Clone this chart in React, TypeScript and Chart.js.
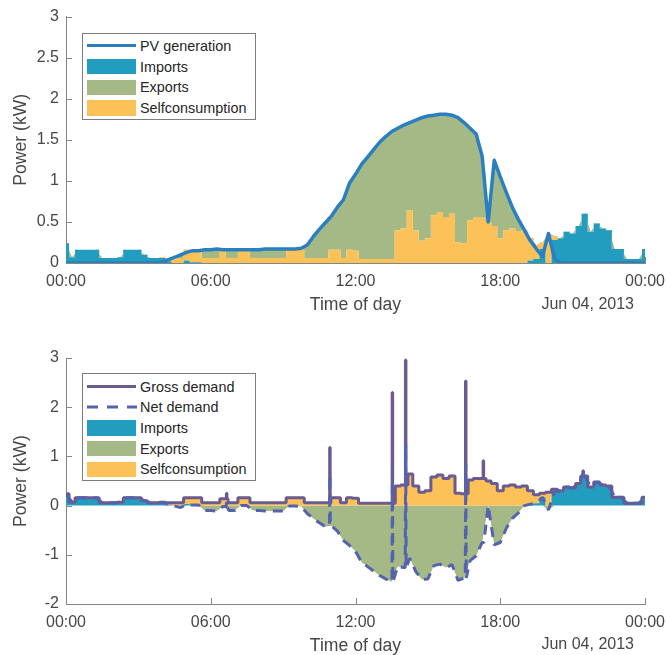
import React, { useEffect, useRef } from 'react';
import { Chart, registerables } from 'chart.js';

Chart.register(...registerables);

// ---- data (kW, 15-minute grid from 00:00 to 24:00) ----
const hours: number[] = Array.from({ length: 97 }, (_, i) => i * 0.25);
const xTickLabels = ['00:00', '06:00', '12:00', '18:00', '00:00'];
const dateLabel = 'Jun 04, 2013';

const pvGeneration = [
  0, 0, 0, 0, 0, 0, 0, 0,
  0, 0, 0, 0, 0, 0, 0, 0,
  0.01, 0.04, 0.07, 0.10, 0.13, 0.15, 0.15, 0.16,
  0.16, 0.17, 0.16, 0.16, 0.16, 0.16, 0.16, 0.16,
  0.16, 0.17, 0.17, 0.17, 0.17, 0.17, 0.17, 0.18,
  0.22, 0.32, 0.41, 0.49, 0.57, 0.68, 0.77, 0.97,
  1.08, 1.20, 1.29, 1.38, 1.47, 1.54, 1.60, 1.64,
  1.68, 1.71, 1.74, 1.77, 1.79, 1.80, 1.81, 1.81,
  1.80, 1.77, 1.71, 1.64, 1.57, 1.30, 0.50, 1.25,
  1.05, 0.86, 0.68, 0.53, 0.40, 0.27, 0.17, 0.08,
  0.36, 0.05, 0, 0, 0, 0, 0, 0,
  0, 0, 0, 0, 0, 0, 0, 0,
  0,
];

const grossDemand = [
  0.24, 0.07, 0.16, 0.16, 0.16, 0.16, 0.06, 0.06,
  0.06, 0.07, 0.16, 0.16, 0.16, 0.10, 0.06, 0.06,
  0.07, 0.06, 0.06, 0.06, 0.16, 0.16, 0.16, 0.06,
  0.06, 0.06, 0.14, 0.06, 0.06, 0.16, 0.16, 0.06,
  0.06, 0.06, 0.06, 0.06, 0.06, 0.16, 0.16, 0.16,
  0.06, 0.06, 0.06, 0.06, 0.16, 0.16, 0.06, 0.16,
  0.15, 0.05, 0.05, 0.05, 0.05, 0.05, 0.05, 0.40,
  0.42, 0.64, 0.40, 0.27, 0.30, 0.58, 0.62, 0.55,
  0.60, 0.25, 0.24, 0.52, 0.55, 0.55, 0.50, 0.45,
  0.30, 0.40, 0.42, 0.38, 0.40, 0.30, 0.22, 0.25,
  0.27, 0.33, 0.30, 0.38, 0.36, 0.45, 0.60, 0.38,
  0.48, 0.42, 0.40, 0.17, 0.17, 0.05, 0.05, 0.05,
  0.17,
];

const netDemand = [
  0.24, 0.07, 0.16, 0.16, 0.16, 0.16, 0.06, 0.06,
  0.06, 0.07, 0.16, 0.16, 0.16, 0.10, 0.06, 0.06,
  0.06, 0.02, -0.01, -0.04, 0.03, 0.01, 0.01, -0.10,
  -0.10, -0.11, -0.02, -0.10, -0.10, 0, 0, -0.10,
  -0.10, -0.11, -0.11, -0.11, -0.11, -0.01, -0.01, -0.02,
  -0.16, -0.26, -0.35, -0.43, -0.41, -0.52, -0.71, -0.81,
  -0.93, -1.15, -1.24, -1.33, -1.42, -1.49, -1.55, -1.24,
  -1.26, -1.07, -1.34, -1.50, -1.49, -1.22, -1.19, -1.26,
  -1.20, -1.52, -1.47, -1.12, -1.02, -0.75, 0, -0.80,
  -0.75, -0.46, -0.26, -0.15, 0, 0.03, 0.05, 0.17,
  -0.09, 0.28, 0.30, 0.38, 0.36, 0.45, 0.60, 0.38,
  0.48, 0.42, 0.40, 0.17, 0.17, 0.05, 0.05, 0.05,
  0.17,
];

const imports = [
  0.24, 0.07, 0.16, 0.16, 0.16, 0.16, 0.06, 0.06,
  0.06, 0.07, 0.16, 0.16, 0.16, 0.10, 0.06, 0.06,
  0.06, 0.02, 0, 0, 0.03, 0.01, 0.01, 0,
  0, 0, 0, 0, 0, 0, 0, 0,
  0, 0, 0, 0, 0, 0, 0, 0,
  0, 0, 0, 0, 0, 0, 0, 0,
  0, 0, 0, 0, 0, 0, 0, 0,
  0, 0, 0, 0, 0, 0, 0, 0,
  0, 0, 0, 0, 0, 0, 0, 0,
  0, 0, 0, 0, 0, 0.03, 0.05, 0.17,
  0, 0.28, 0.30, 0.38, 0.36, 0.45, 0.60, 0.38,
  0.48, 0.42, 0.40, 0.17, 0.17, 0.05, 0.05, 0.05,
  0.17,
];

const exportsKw = [
  0, 0, 0, 0, 0, 0, 0, 0,
  0, 0, 0, 0, 0, 0, 0, 0,
  0, 0, 0.01, 0.04, 0, 0, 0, 0.10,
  0.10, 0.11, 0.02, 0.10, 0.10, 0, 0, 0.10,
  0.10, 0.11, 0.11, 0.11, 0.11, 0.01, 0.01, 0.02,
  0.16, 0.26, 0.35, 0.43, 0.41, 0.52, 0.71, 0.81,
  0.93, 1.15, 1.24, 1.33, 1.42, 1.49, 1.55, 1.24,
  1.26, 1.07, 1.34, 1.50, 1.49, 1.22, 1.19, 1.26,
  1.20, 1.52, 1.47, 1.12, 1.02, 0.75, 0, 0.80,
  0.75, 0.46, 0.26, 0.15, 0, 0, 0, 0,
  0.09, 0, 0, 0, 0, 0, 0, 0,
  0, 0, 0, 0, 0, 0, 0, 0,
  0,
];

const selfConsumption = [
  0, 0, 0, 0, 0, 0, 0, 0,
  0, 0, 0, 0, 0, 0, 0, 0,
  0.01, 0.04, 0.06, 0.06, 0.13, 0.15, 0.15, 0.06,
  0.06, 0.06, 0.14, 0.06, 0.06, 0.16, 0.16, 0.06,
  0.06, 0.06, 0.06, 0.06, 0.06, 0.16, 0.16, 0.16,
  0.06, 0.06, 0.06, 0.06, 0.16, 0.16, 0.06, 0.16,
  0.15, 0.05, 0.05, 0.05, 0.05, 0.05, 0.05, 0.40,
  0.42, 0.64, 0.40, 0.27, 0.30, 0.58, 0.62, 0.55,
  0.60, 0.25, 0.24, 0.52, 0.55, 0.55, 0.50, 0.45,
  0.30, 0.40, 0.42, 0.38, 0.40, 0.27, 0.17, 0.08,
  0.27, 0.05, 0, 0, 0, 0, 0, 0,
  0, 0, 0, 0, 0, 0, 0, 0,
  0,
];

// short demand spikes (hour of day, peak and surrounding level)
const spikeHours = [6.66, 10.94, 13.53, 14.08, 16.57, 17.30, 21.44];
const spikeGross = [0.25, 1.18, 2.30, 2.96, 2.53, 0.91, 0.71];
const spikeGrossBase = [0.14, 0.06, 0.05, 0.42, 0.24, 0.55, 0.60];
const spikeNet = [0.09, 0.62, 0.70, 1.26, 0.84, -0.75, 0.71];
const spikeNetBase = [-0.02, -0.41, -1.55, -1.26, -1.47, -0.75, 0.60];

// ---- styling ----
const FONT = "'Liberation Sans', Arial, Helvetica, sans-serif";
const AXIS = '#868686';
const TEXT = '#474747';
const C_PV = '#2a7fc0';
const C_IMP = '#239dbf';
const C_EXP = '#a5b986';
const C_SELF = '#fdc257';
const C_GROSS = '#6b5b8f';
const C_NET = '#5562ae';

const pts = (vals: number[], sign = 1) => hours.map((h, i) => ({ x: h, y: sign * vals[i] }));

function withSpikes(vals: number[], peaks: number[], bases: number[]) {
  const out = pts(vals);
  spikeHours.forEach((t, k) => {
    out.push({ x: t - 0.02, y: bases[k] }, { x: t, y: peaks[k] }, { x: t + 0.02, y: bases[k] });
  });
  return out.sort((a, b) => a.x - b.x);
}

const innerTicks = {
  id: 'innerTicks',
  beforeDatasetsDraw(chart: any) {
    const { ctx, chartArea, scales } = chart;
    ctx.save();
    ctx.strokeStyle = AXIS;
    ctx.lineWidth = 1;
    ctx.beginPath();
    scales.y.ticks.forEach((t: any) => {
      const y = Math.round(scales.y.getPixelForValue(t.value)) + 0.5;
      ctx.moveTo(chartArea.left, y);
      ctx.lineTo(chartArea.left + 6, y);
    });
    scales.x.ticks.forEach((t: any) => {
      const x = Math.round(scales.x.getPixelForValue(t.value)) + 0.5;
      ctx.moveTo(x, chartArea.bottom);
      ctx.lineTo(x, chartArea.bottom - 6);
    });
    ctx.stroke();
    ctx.restore();
  },
};

function makeOptions(yMin: number, yMax: number, yStep: number, padTop: number, padBottom: number) {
  return {
    responsive: false,
    animation: false as const,
    events: [] as any[],
    layout: { padding: { top: padTop, right: 22, bottom: padBottom, left: 0 } },
    plugins: { legend: { display: false }, tooltip: { enabled: false } },
    elements: { point: { radius: 0 }, line: { tension: 0 } },
    scales: {
      x: {
        type: 'linear' as const,
        min: 0,
        max: 24,
        z: 1,
        ticks: {
          stepSize: 6,
          autoSkip: false,
          maxRotation: 0,
          padding: 9,
          color: TEXT,
          font: { family: FONT, size: 16 },
          callback: (v: any) => xTickLabels[Math.round(Number(v) / 6)],
        },
        grid: { display: false, drawTicks: false, tickLength: 0 },
        border: { display: true, color: AXIS, width: 1 },
        title: {
          display: true,
          text: 'Time of day',
          color: TEXT,
          font: { family: FONT, size: 17.6, lineHeight: 1 },
          padding: { top: 0, bottom: 0 },
        },
        afterFit: (s: any) => {
          s.height = 51;
          s.paddingLeft = 20;
          s.paddingRight = 20;
        },
      },
      y: {
        min: yMin,
        max: yMax,
        stacked: true,
        z: 1,
        ticks: {
          stepSize: yStep,
          padding: 7,
          color: TEXT,
          font: { family: FONT, size: 16 },
          callback: (v: any) => String(Number(v)),
        },
        grid: { display: false, drawTicks: false, tickLength: 0 },
        border: { display: true, color: AXIS, width: 1 },
        title: {
          display: true,
          text: 'Power (kW)',
          color: TEXT,
          font: { family: FONT, size: 17.6, lineHeight: 1 },
          padding: { top: 12, bottom: 0 },
        },
        afterFit: (s: any) => { s.width = 66; },
      },
    },
  };
}

type Item = { label: string; kind: 'line' | 'dash' | 'box'; color: string };

function Legend(props: { left: number; top: number; width: number; height: number; first: number; spacing: number; items: Item[] }) {
  const { left, top, width, height, first, spacing, items } = props;
  return (
    <div
      style={{
        position: 'absolute', left, top, width, height, boxSizing: 'border-box',
        border: '1px solid #7d7d7d', background: '#ffffff', fontFamily: FONT,
      }}
    >
      {items.map((it, i) => {
        const cy = first + i * spacing;
        return (
          <React.Fragment key={i}>
            {it.kind === 'box' && (
              <div style={{ position: 'absolute', left: 4, top: cy - 7.75, width: 49, height: 15.5, background: it.color }} />
            )}
            {it.kind === 'line' && (
              <div style={{ position: 'absolute', left: 4, top: cy - 1.5, width: 49, height: 3, background: it.color }} />
            )}
            {it.kind === 'dash' && (
              <svg style={{ position: 'absolute', left: 4, top: cy - 2 }} width={50} height={4}>
                <line x1={0} y1={2} x2={50} y2={2} stroke={it.color} strokeWidth={3} strokeDasharray="11 9" />
              </svg>
            )}
            <div
              style={{
                position: 'absolute', left: 57, top: cy - 10, height: 20, lineHeight: '20px',
                fontSize: 14.4, color: '#262626', whiteSpace: 'nowrap',
              }}
            >
              {it.label}
            </div>
          </React.Fragment>
        );
      })}
    </div>
  );
}

const areaBase = { borderWidth: 0, borderColor: 'rgba(0,0,0,0)', pointRadius: 0 };

export default function App() {
  const topRef = useRef<HTMLCanvasElement | null>(null);
  const botRef = useRef<HTMLCanvasElement | null>(null);

  useEffect(() => {
    const top = new Chart(topRef.current as HTMLCanvasElement, {
      type: 'line',
      data: {
        datasets: [
          {
            label: 'PV generation', data: pts(pvGeneration), stack: 'pv',
            borderColor: C_PV, borderWidth: 3.5, fill: false, pointRadius: 0,
            borderJoinStyle: 'round',
          },
          {
            ...areaBase, label: 'Imports', data: pts(imports), stack: 'flows',
            backgroundColor: C_IMP, fill: 'origin', stepped: 'middle',
          },
          {
            ...areaBase, label: 'Selfconsumption', data: pts(selfConsumption), stack: 'flows',
            backgroundColor: C_SELF, fill: '-1', stepped: 'middle',
          },
          {
            ...areaBase, label: 'Exports', data: pts(exportsKw), stack: 'flows',
            backgroundColor: C_EXP, fill: '-1',
          },
        ],
      } as any,
      options: makeOptions(0, 3, 0.5, 16, 6) as any,
      plugins: [innerTicks],
    });

    const bot = new Chart(botRef.current as HTMLCanvasElement, {
      type: 'line',
      data: {
        datasets: [
          {
            label: 'Net demand', data: withSpikes(netDemand, spikeNet, spikeNetBase), stack: 'net',
            borderColor: C_NET, borderWidth: 3, borderDash: [10, 7], fill: false, pointRadius: 0,
            borderJoinStyle: 'bevel',
          },
          {
            label: 'Gross demand', data: withSpikes(grossDemand, spikeGross, spikeGrossBase), stack: 'gross',
            borderColor: C_GROSS, borderWidth: 3, fill: false, pointRadius: 0, stepped: 'middle',
            borderJoinStyle: 'bevel',
          },
          {
            ...areaBase, label: 'Imports', data: pts(imports), stack: 'demand',
            backgroundColor: C_IMP, fill: 'origin', stepped: 'middle',
          },
          {
            ...areaBase, label: 'Selfconsumption', data: pts(selfConsumption), stack: 'demand',
            backgroundColor: C_SELF, fill: '-1', stepped: 'middle',
          },
          {
            ...areaBase, label: 'Exports', data: pts(exportsKw, -1), stack: 'export',
            backgroundColor: C_EXP, fill: 'origin',
          },
        ],
      } as any,
      options: makeOptions(-2, 3, 1, 38, 0) as any,
      plugins: [innerTicks],
    });

    return () => {
      top.destroy();
      bot.destroy();
    };
  }, []);

  const dateStyle = (centerY: number): React.CSSProperties => ({
    position: 'absolute', left: 0, width: 634, top: centerY - 10, height: 20, lineHeight: '20px',
    textAlign: 'right', fontFamily: FONT, fontSize: 16, color: TEXT, whiteSpace: 'nowrap',
  });

  return (
    <div style={{ position: 'absolute', left: 0, top: 0, width: 667, height: 655, background: '#ffffff', overflow: 'hidden' }}>
      <canvas ref={topRef} width={667} height={320} style={{ position: 'absolute', left: 0, top: 0, width: 667, height: 320 }} />
      <canvas ref={botRef} width={667} height={335} style={{ position: 'absolute', left: 0, top: 320, width: 667, height: 335 }} />
      <Legend
        left={82} top={33} width={174} height={87} first={11.7} spacing={20.8}
        items={[
          { label: 'PV generation', kind: 'line', color: C_PV },
          { label: 'Imports', kind: 'box', color: C_IMP },
          { label: 'Exports', kind: 'box', color: C_EXP },
          { label: 'Selfconsumption', kind: 'box', color: C_SELF },
        ]}
      />
      <Legend
        left={82} top={373} width={174} height={108} first={12.7} spacing={20.65}
        items={[
          { label: 'Gross demand', kind: 'line', color: C_GROSS },
          { label: 'Net demand', kind: 'dash', color: C_NET },
          { label: 'Imports', kind: 'box', color: C_IMP },
          { label: 'Exports', kind: 'box', color: C_EXP },
          { label: 'Selfconsumption', kind: 'box', color: C_SELF },
        ]}
      />
      <div style={dateStyle(303.5)}>{dateLabel}</div>
      <div style={dateStyle(643.5)}>{dateLabel}</div>
    </div>
  );
}
